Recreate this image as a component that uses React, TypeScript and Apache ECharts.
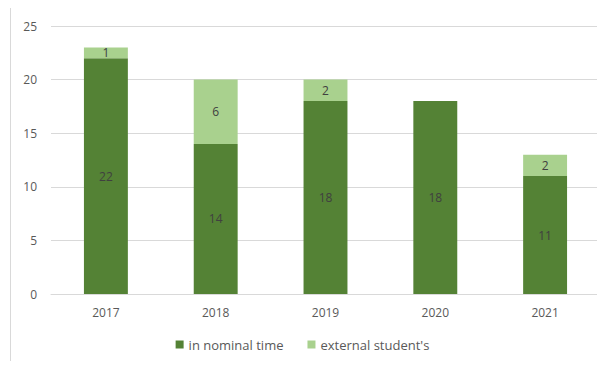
import React, { useEffect, useRef } from "react";
import * as echarts from "echarts";

const categories = ["2017", "2018", "2019", "2020", "2021"];
const nominalTime = [22, 14, 18, 18, 11];
const externalStudents = [1, 6, 2, 0, 2];
const seriesNames = ["in nominal time", "external student's"];

export default function App() {
  const ref = useRef<HTMLDivElement>(null);
  useEffect(() => {
    if (!ref.current) return;
    const chart = echarts.init(ref.current, undefined, { renderer: "svg" });
    const font = "'Open Sans', 'Noto Sans', sans-serif";
    chart.setOption({
      animation: false,
      textStyle: { fontFamily: font },
      graphic: [
        {
          type: "rect",
          shape: { x: 10.5, y: 7.5, width: 620, height: 400 },
          style: { fill: "none", stroke: "#d9d9d9", lineWidth: 1 },
          silent: true,
        },
      ],
      grid: { left: 51, right: 5, top: 26, bottom: 75, containLabel: false },
      legend: {
        bottom: 13,
        left: "center",
        itemWidth: 8,
        itemHeight: 8,
        itemGap: 24,
        icon: "rect",
        textStyle: { color: "#595959", fontSize: 13, fontFamily: font },
        data: seriesNames,
      },
      xAxis: {
        type: "category",
        data: categories,
        axisLine: { lineStyle: { color: "#d9d9d9" } },
        axisTick: { show: false },
        axisLabel: { color: "#595959", fontSize: 12, margin: 12, fontFamily: font },
      },
      yAxis: {
        type: "value",
        min: 0,
        max: 25,
        interval: 5,
        axisLine: { show: false },
        axisTick: { show: false },
        axisLabel: { color: "#595959", fontSize: 12, margin: 14, fontFamily: font },
        splitLine: { lineStyle: { color: "#d9d9d9" } },
      },
      series: [
        {
          name: seriesNames[0],
          type: "bar",
          stack: "total",
          barWidth: "40%",
          data: nominalTime,
          itemStyle: { color: "#548235" },
          label: {
            show: true,
            position: "inside",
            color: "#404040",
            fontSize: 12,
            fontFamily: font,
          },
        },
        {
          name: seriesNames[1],
          type: "bar",
          stack: "total",
          barWidth: "40%",
          data: externalStudents.map((v) => (v === 0 ? null : v)),
          itemStyle: { color: "#a9d18e" },
          label: {
            show: true,
            position: "inside",
            color: "#404040",
            fontSize: 12,
            fontFamily: font,
          },
        },
      ],
    });
    return () => chart.dispose();
  }, []);
  return <div ref={ref} style={{ width: 605, height: 369, margin: -8 }} />;
}
